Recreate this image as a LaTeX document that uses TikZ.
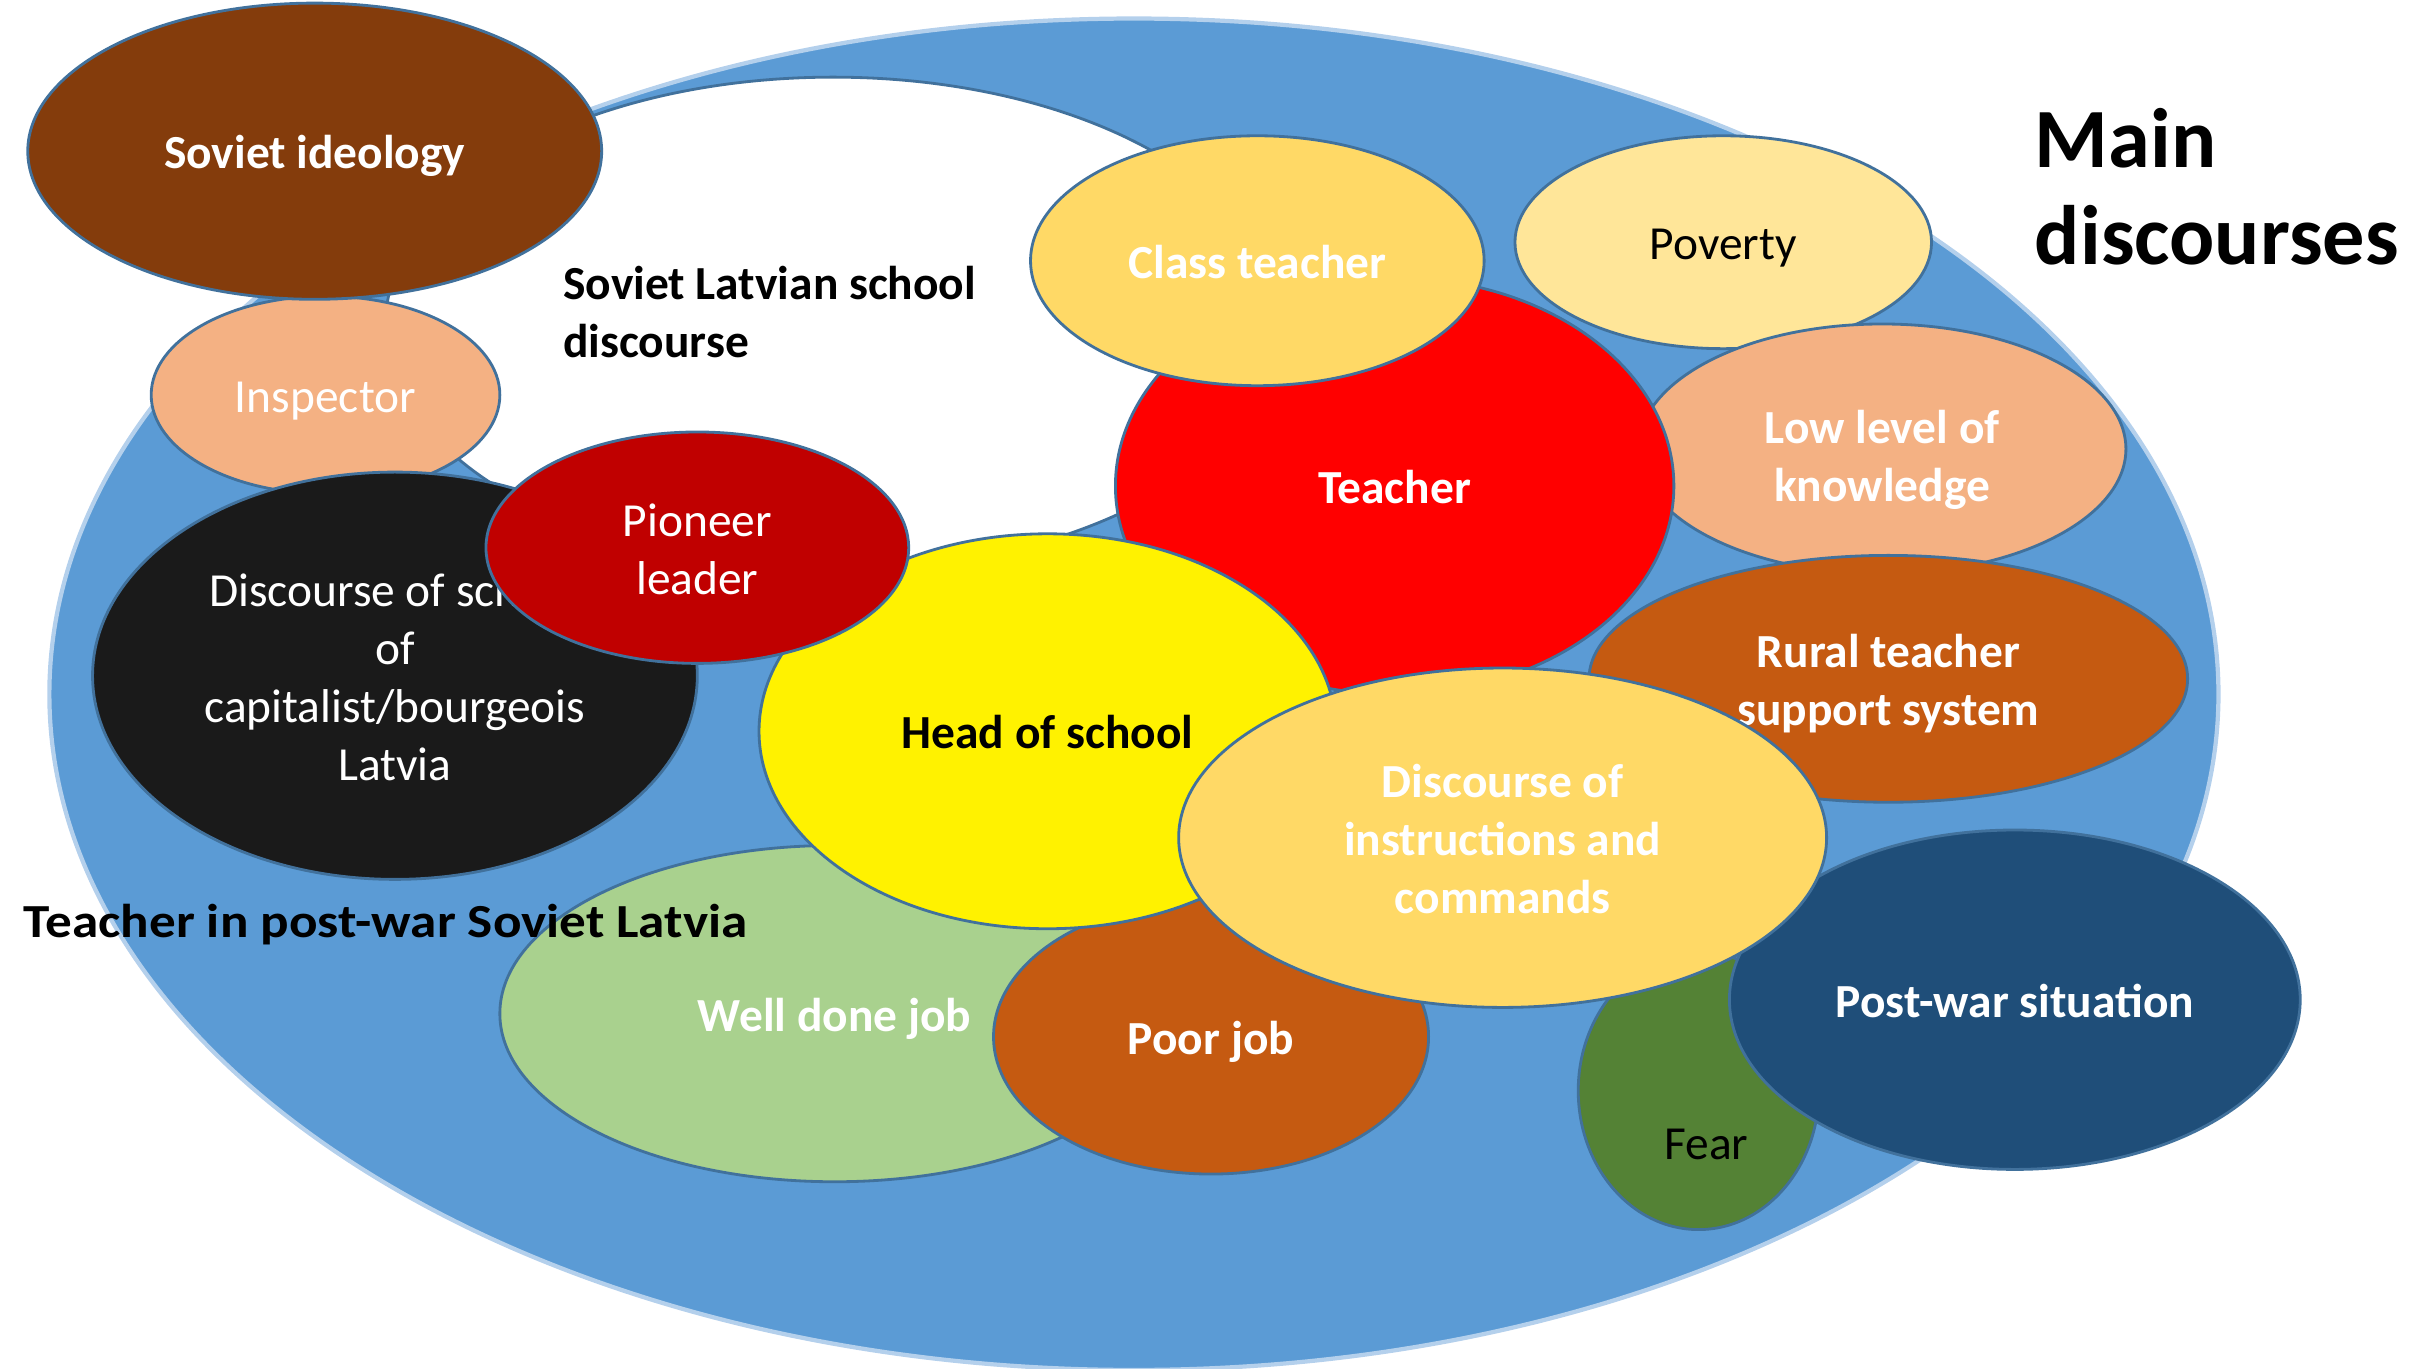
\documentclass[tikz,border=0pt]{standalone}
\usepackage{fontspec}
\setmainfont{Carlito}
\usetikzlibrary{shapes.geometric}

\definecolor{ringblue}{HTML}{5B9BD5}
\definecolor{ringedge}{HTML}{B4D0EC}
\definecolor{edgeblue}{HTML}{41719C}
\definecolor{ideobrown}{HTML}{843C0C}
\definecolor{salmon}{HTML}{F4B183}
\definecolor{nearblack}{HTML}{1A1A1A}
\definecolor{darkred}{HTML}{C00000}
\definecolor{gold}{HTML}{FFD966}
\definecolor{palegold}{HTML}{FFE699}
\definecolor{rust}{HTML}{C55A11}
\definecolor{leafgreen}{HTML}{A9D18E}
\definecolor{mossgreen}{HTML}{548235}
\definecolor{navy}{HTML}{1F4E79}

% struts: first line height, last line depth
\newcommand\lineTop[1][0.96em]{\rule{0pt}{#1}}
\newcommand\lineFoot{\rule[-0.22em]{0pt}{0pt}}

\begin{document}
\begin{tikzpicture}[x=0.15427mm, y=-0.15427mm,
  blob/.style n args={3}{ellipse, draw=edgeblue, line width=0.8pt, fill=#1,
    minimum width=#2*0.30854mm, minimum height=#3*0.30854mm, inner sep=0pt,
    align=center, text=white, font=\fontsize{13.5}{16.5}\selectfont},
  strong/.style={font=\fontsize{13.5}{16.5}\selectfont\bfseries},
  heading/.style={font=\fontsize{24}{27.6}\selectfont\bfseries, align=left, anchor=west},
]
\useasboundingbox (0,0) rectangle (1568,887);

% outer ring and inner school field
\node[ellipse, fill=ringblue, draw=ringedge, line width=1.2pt, minimum width=1406*0.15427mm, minimum height=876*0.15427mm] (ring) at (735,450) {};
\node[blob={white}{290}{160}] (field) at (540,210) {};
\node[strong, align=left, anchor=west] (fieldtxt) at (357,202) {Soviet Latvian school\\discourse};

% left group
\node[blob={salmon}{113}{64}] (inspector) at (211,256) {\lineTop Inspector\lineFoot};
\node[blob={ideobrown}{186}{96}, strong] (ideology) at (204,98) {\lineTop Soviet ideology\lineFoot};

% bottom
\node[blob={leafgreen}{217}{109}, strong] (welldone) at (541,657) {\lineTop Well done job\lineFoot};
\node[blob={rust}{141}{89}, strong] (poorjob) at (785,672) {\lineTop Poor job\lineFoot};

% upper right
\node[blob={palegold}{135}{69}, text=black] (poverty) at (1117,157) {\lineTop Poverty\lineFoot};
\node[blob={salmon}{158}{81}, strong] (lowlevel) at (1220,291) {\lineTop[1.2em]Low level of\\knowledge\lineFoot};
\node[blob={red}{181}{135}, strong] (teacher) at (904,315) {\lineTop Teacher\lineFoot};
\node[blob={gold}{147}{81}, strong] (classteacher) at (815,169) {\lineTop Class teacher\lineFoot};

% centre
\node[blob={yellow}{187}{128}, strong, text=black] (head) at (679,474) {\lineTop Head of school\lineFoot};
\node[blob={nearblack}{196}{132}] (bourgeois) at (256,438) {\lineTop Discourse of school\\of\\capitalist/bourgeois\\Latvia\lineFoot};
\node[blob={darkred}{137}{75}] (pioneer) at (452,355) {\lineTop Pioneer\\leader\lineFoot};

% lower right
\node[blob={rust}{194}{80}, strong] (rural) at (1224,440) {\lineTop Rural teacher\\support system\lineFoot};
\node[blob={mossgreen}{78}{90}] (fear) at (1101,707) {};
\node[text=black, font=\fontsize{13.5}{16.5}\selectfont] (feartxt) at (1106,742) {Fear};
\node[blob={navy}{185}{110}, strong] (postwar) at (1306,648) {\lineTop Post-war situation\lineFoot};
\node[blob={gold}{210}{110}, strong] (commands) at (974,543) {\lineTop Discourse of\\instructions and\\commands\lineFoot};

% headings
\node[strong, anchor=west, inner sep=0pt, xscale=1.12, transform shape] (ringtxt) at (15,599) {Teacher in post-war Soviet Latvia};
\node[heading] (maintxt) at (1311,121) {Main\\discourses};

\end{tikzpicture}
\end{document}
